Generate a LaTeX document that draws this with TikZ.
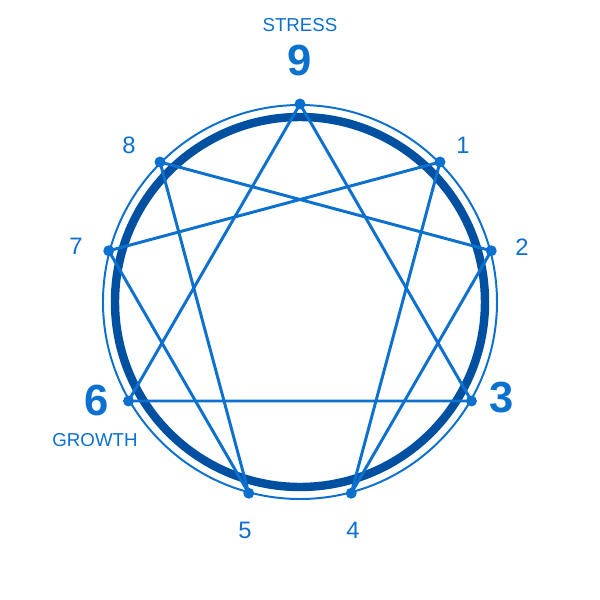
\documentclass[tikz,border=0pt]{standalone}
\usepackage{fontspec}
\setmainfont{Liberation Sans}
\usetikzlibrary{calc}
\definecolor{enblue}{RGB}{12,112,206}
\definecolor{endeep}{RGB}{0,80,162}
\tikzset{%
	ring/.style      = {draw=endeep, line width=6pt},
	halo/.style      = {draw=enblue, line width=1.4pt},
	chord/.style     = {draw=enblue, line width=2.1pt, line join=round},
	pointdot/.style  = {circle, fill=enblue, inner sep=0pt, minimum size=7.8pt},
	numlabel/.style  = {text=enblue, font=\fontsize{16.9}{20}\selectfont},
	biglabel/.style  = {text=enblue, font=\fontsize{31}{36}\selectfont\bfseries},
	wordlabel/.style = {text=enblue, font=\fontsize{13.3}{16}\selectfont},
}

\begin{document}
\begin{tikzpicture}[x=0.025cm,y=0.025cm]
	\useasboundingbox (-300,-298) rectangle (300,302);
	\draw[halo] (0,0) circle (197);
	\draw[ring] (0,0) circle (185);
	
	\foreach \n/\a in {9/90,1/45,2/15,3/-30,4/-75,5/-105,6/-150,7/165,8/135} \coordinate (p\n) at (\a:198);
	
	\draw[chord] (p9) -- (p3) -- (p6) -- cycle;
	\draw[chord] (p1) -- (p4) -- (p2) -- (p8) -- (p5) -- (p7) -- cycle;
	
	\foreach \n in {1,...,9} \node[pointdot] (d\n) at (p\n) {};
	
	\node[wordlabel] (stress) at (0,277) {STRESS};
	\node[biglabel] (l9) at (0,242) {9};
	\node[biglabel] (l3) at (202,-96) {3};
	\node[biglabel] (l6) at (-203,-98) {6};
	\node[wordlabel] (growth) at (-205,-138) {GROWTH};
	
	\foreach \n/\x/\y in {1/163/157,2/222/55,4/53/-228,5/-55/-228,7/-224/56,8/-171/157} \node[numlabel] (l\n) at (\x,\y) {\n};
\end{tikzpicture}
\end{document}
